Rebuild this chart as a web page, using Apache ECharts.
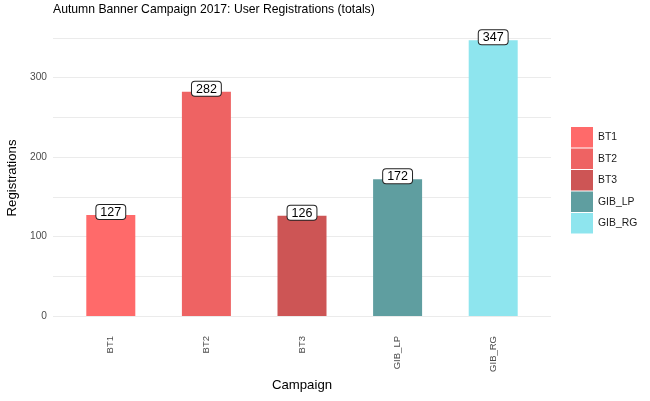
<!DOCTYPE html>
<html>
<head>
<meta charset="utf-8">
<script src="https://cdn.jsdelivr.net/npm/echarts@6/dist/echarts.min.js"></script>
<style>html,body{margin:0;padding:0;background:#fff}#c{width:650px;height:401px}</style>
</head>
<body>
<div id="c"></div>
<script>
const categories = ['BT1', 'BT2', 'BT3', 'GIB_LP', 'GIB_RG'];
const registrations = [127, 282, 126, 172, 347];
const colors = ['#FF6A6A', '#EE6363', '#CD5555', '#5F9EA0', '#8EE5EE'];
const yTicks = [0, 100, 200, 300];

const FONT = '"Liberation Sans", Arial, sans-serif';
const chart = echarts.init(document.getElementById('c'), null, {renderer: 'canvas'});

const series = categories.map((name, i) => ({
  name: name,
  type: 'bar',
  stack: 'all',
  xAxisIndex: 1,
  yAxisIndex: 1,
  barWidth: 49,
  itemStyle: {color: colors[i]},
  data: categories.map((c, j) => (j === i ? registrations[i] : '-')),
  label: {
    show: true,
    position: 'top',
    distance: -4,
    formatter: '{c}',
    color: '#000',
    fontSize: 12.5,
    fontFamily: FONT,
    backgroundColor: '#fff',
    borderColor: '#222',
    borderWidth: 1,
    borderRadius: 3,
    padding: [1, 4, 0, 4]
  },
  emphasis: {disabled: true},
  animation: false
}));

chart.setOption({
  animation: false,
  textStyle: {fontFamily: FONT},
  grid: [
    {left: 53, right: 99, top: 37.75, bottom: 85},
    {left: 63, right: 109, top: 37.75, bottom: 85}
  ],
  xAxis: [
    {type: 'value', gridIndex: 0, show: false, min: 0, max: 1},
    {
      type: 'category', gridIndex: 1, data: categories,
      axisLine: {show: false}, axisTick: {show: false},
      axisLabel: {rotate: 90, margin: 20, fontSize: 9.5, color: '#4d4d4d', fontFamily: FONT}
    }
  ],
  yAxis: [
    {
      type: 'value', gridIndex: 0, min: 0, max: 350, interval: 50,
      axisLine: {show: false}, axisTick: {show: false},
      splitLine: {show: true, lineStyle: {color: '#ebebeb', width: 1}},
      axisLabel: {
        margin: 6, fontSize: 10.2, color: '#4d4d4d', fontFamily: FONT,
        formatter: v => (yTicks.indexOf(v) >= 0 ? String(v) : '')
      }
    },
    {type: 'value', gridIndex: 1, min: 0, max: 350, show: false, splitLine: {show: false}}
  ],
  legend: {
    orient: 'vertical',
    left: 571, top: 127,
    padding: 0,
    itemWidth: 22, itemHeight: 20.5, itemGap: 1,
    icon: 'rect',
    selectedMode: false,
    textStyle: {fontSize: 10.4, color: '#1a1a1a', fontFamily: FONT},
    data: categories
  },
  graphic: [
    {type: 'text', left: 53, top: 4, style: {text: 'Autumn Banner Campaign 2017: User Registrations (totals)', fontSize: 12.2, fill: '#000', fontFamily: FONT}},
    {type: 'text', x: 12, y: 178, rotation: Math.PI / 2, style: {text: 'Registrations', fontSize: 13.2, fill: '#000', fontFamily: FONT, align: 'center', verticalAlign: 'middle'}},
    {type: 'text', x: 302, y: 385, style: {text: 'Campaign', fontSize: 13.2, fill: '#000', fontFamily: FONT, align: 'center', verticalAlign: 'middle'}}
  ],
  series: series
});
</script>
</body>
</html>
